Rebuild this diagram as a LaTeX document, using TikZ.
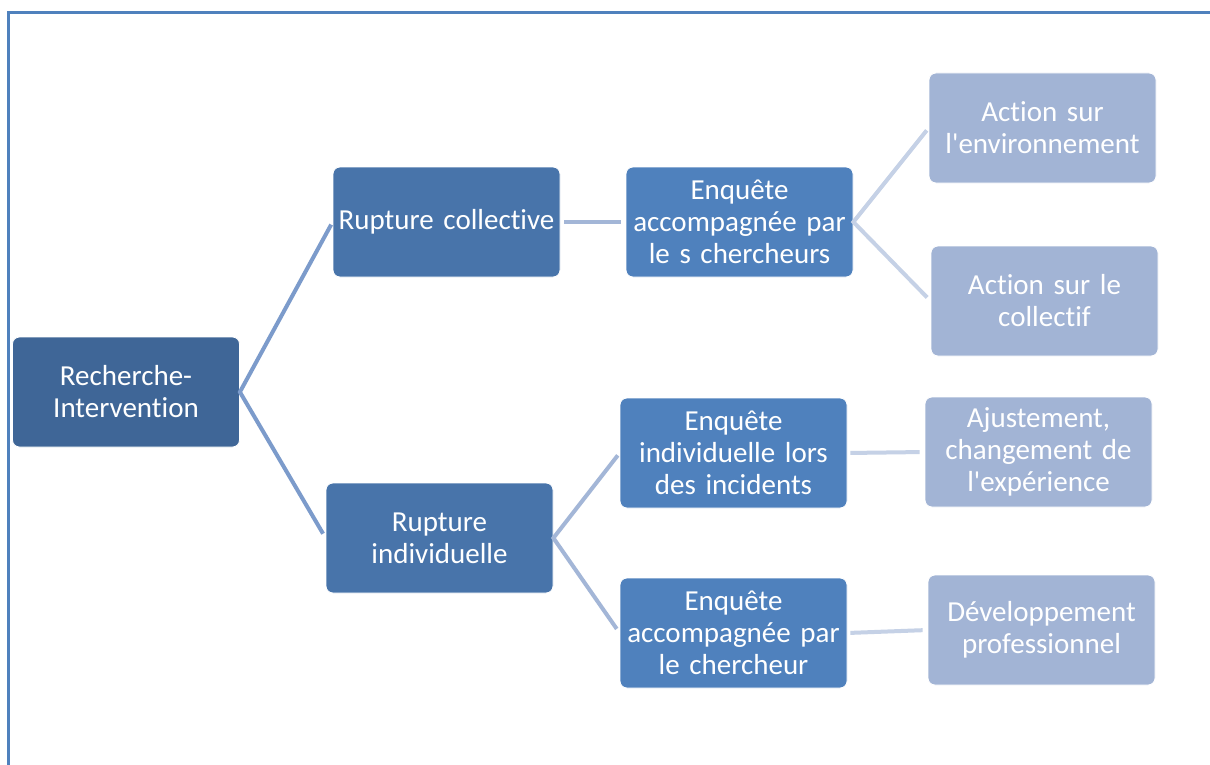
\documentclass[tikz,border=0pt]{standalone}
\usepackage{fontspec}
\setmainfont{Carlito}
\newfontfamily\boxfont[Ligatures={NoCommon}]{Carlito}
\definecolor{frame}{HTML}{4F81BD}
\definecolor{c0}{HTML}{3F6697}
\definecolor{c1}{HTML}{4874AA}
\definecolor{c2}{HTML}{4F81BD}
\definecolor{c3}{HTML}{A2B4D5}
\definecolor{l1}{HTML}{7C9BCB}
\definecolor{l2}{HTML}{A3B6D7}
\definecolor{l3}{HTML}{C5D1E6}
\tikzset{
  box/.style={rounded corners=7pt, draw=white, line width=0.8pt, text=white,
    minimum width=227pt, minimum height=110pt, text width=225pt, align=center,
    inner sep=0pt, font=\boxfont\fontsize{29}{32}\selectfont},
  lvlzero/.style={box, fill=c0},
  lvlone/.style={box, fill=c1},
  lvltwo/.style={box, fill=c2},
  lvlthree/.style={box, fill=c3},
  conn/.style={line width=4pt, shorten <=3pt, shorten >=5pt},
}
\begin{document}
\begin{tikzpicture}[x=1pt,y=-1pt]
\useasboundingbox (0,0) rectangle (1210,765);
\fill[white] (0,0) rectangle (1210,765);
\draw[frame, line width=2.5pt] (8.5,765) -- (8.5,12.5) -- (1210,12.5);

\node[lvlzero] (root) at (126,392) {Recherche-\\Intervention};
\node[lvlone] (rc) at (446.5,222) {Rupture collective};
\node[lvlone] (ri) at (439.5,538) {Rupture\\individuelle};
\node[lvltwo] (ec) at (739.5,222) {Enquête\\accompagnée par\\le s chercheurs};
\node[lvltwo] (ei) at (733.5,453) {Enquête\\individuelle lors\\des incidents};
\node[lvltwo] (ea) at (733.5,633) {Enquête\\accompagnée par\\le chercheur};
\node[lvlthree] (ae) at (1042.5,128) {Action sur\\l'environnement};
\node[lvlthree] (ac) at (1044.5,301) {Action sur le\\collectif};
\node[lvlthree] (aj) at (1038.5,452) {Ajustement,\\changement de\\l'expérience};
\node[lvlthree] (dp) at (1041.5,630) {Développement\\professionnel};

\draw[conn, l1] (rc.west) -- (root.east) -- (ri.west);
\draw[conn, l2, shorten <=4pt] (rc.east) -- (ec.west);
\draw[conn, l2] (ei.west) -- (ri.east) -- (ea.west);
\draw[conn, l3] (ae.west) -- (ec.east) -- (ac.west);
\draw[conn, l3] (ei.east) -- (aj.west);
\draw[conn, l3] (ea.east) -- (dp.west);
\end{tikzpicture}
\end{document}
